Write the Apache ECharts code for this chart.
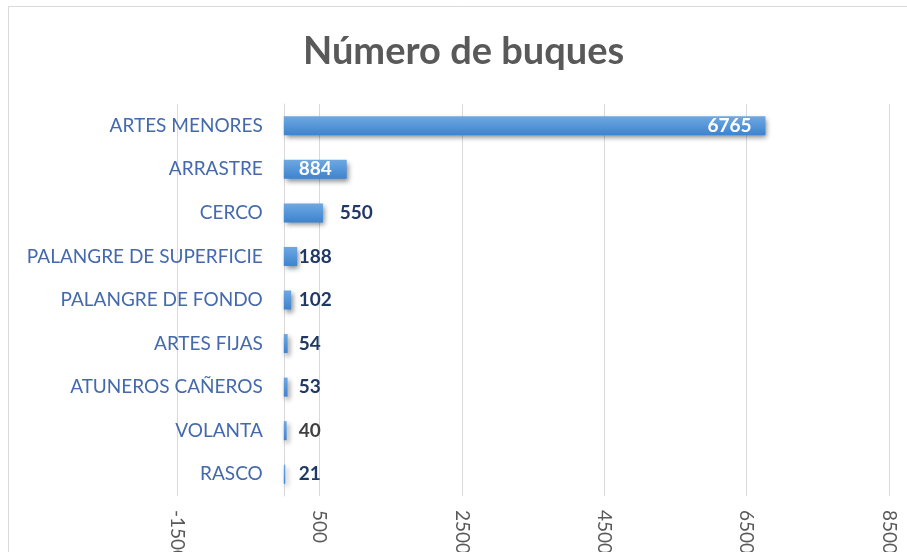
<!DOCTYPE html>
<html>
<head>
<meta charset="utf-8">
<script src="https://cdn.jsdelivr.net/npm/echarts@6/dist/echarts.min.js"></script>
<style>
  html, body { margin: 0; padding: 0; background: #fff; }
  #chart { width: 907px; height: 552px; }
</style>
</head>
<body>
<div id="chart"></div>
<script>
// Data
const categories = ['ARTES MENORES', 'ARRASTRE', 'CERCO', 'PALANGRE DE SUPERFICIE',
  'PALANGRE DE FONDO', 'ARTES FIJAS', 'ATUNEROS CAÑEROS', 'VOLANTA', 'RASCO']
const vessels = [6765, 884, 550, 188, 102, 54, 53, 40, 21]
const axisMin = -1500
const axisMax = 8500
const axisStep = 2000

const chart = echarts.init(document.getElementById('chart'), null, { renderer: 'canvas' })

const gridLeft = 177
const gridRight = 18
const plotWidth = 907 - gridLeft - gridRight
// shift the category axis from the grid edge to the zero line
const zeroShift = plotWidth * (0 - axisMin) / (axisMax - axisMin)

// per-bar label placement, like the source chart (small ones were lined up by hand)
const labelFor = (v, idx) => {
  if (idx === 0) return { position: 'insideRight', distance: 14, color: '#fff' }
  if (idx === 1) return { position: 'inside', color: '#fff' }
  const lbl = { position: [idx === 2 ? 56 : 15, '50%'], align: 'left', verticalAlign: 'middle' }
  if (v === 40) lbl.color = '#404040'
  return lbl
}

const barColor = new echarts.graphic.LinearGradient(0, 0, 0, 1, [
  { offset: 0, color: '#6ea8e2' },
  { offset: 1, color: '#3d83cf' }
])

chart.setOption({
  animation: false,
  title: {
    text: 'Número de buques',
    left: 298,
    top: 28,
    textStyle: { color: '#595959', fontSize: 38, fontWeight: 'bold', fontFamily: 'Lato' }
  },
  graphic: [{
    type: 'rect',
    shape: { x: 8.5, y: 6.5, width: 1000, height: 1000 },
    style: { fill: 'none', stroke: '#d9d9d9', lineWidth: 1 },
    silent: true
  }],
  grid: { left: gridLeft, right: gridRight, top: 104, bottom: 56, outerBoundsMode: 'none' },
  xAxis: {
    type: 'value',
    min: axisMin,
    max: axisMax,
    interval: axisStep,
    axisLine: { show: false },
    axisTick: { show: false },
    splitLine: { lineStyle: { color: '#d9d9d9', width: 1 } },
    axisLabel: {
      rotate: -90, margin: 14, color: '#595959', fontSize: 19, fontFamily: 'Lato',
      formatter: v => String(v)
    }
  },
  yAxis: {
    type: 'category',
    inverse: true,
    data: categories,
    offset: -zeroShift,
    axisLine: { onZero: false, lineStyle: { color: '#d9d9d9', width: 1 } },
    axisTick: { show: false },
    axisLabel: { margin: 21, color: '#4469ad', fontSize: 19, fontFamily: 'Lato' }
  },
  series: [{
    type: 'bar',
    barWidth: 19,
    data: vessels.map((v, idx) => ({ value: v, label: labelFor(v, idx) })),
    itemStyle: {
      color: barColor,
      shadowColor: 'rgba(0,0,0,0.45)',
      shadowBlur: 5,
      shadowOffsetX: 2,
      shadowOffsetY: 3
    },
    label: {
      show: true,
      position: 'right',
      distance: 6,
      color: '#1f3864',
      fontSize: 19,
      fontWeight: 'bold',
      fontFamily: 'Lato'
    }
  }]
})
</script>
</body>
</html>
